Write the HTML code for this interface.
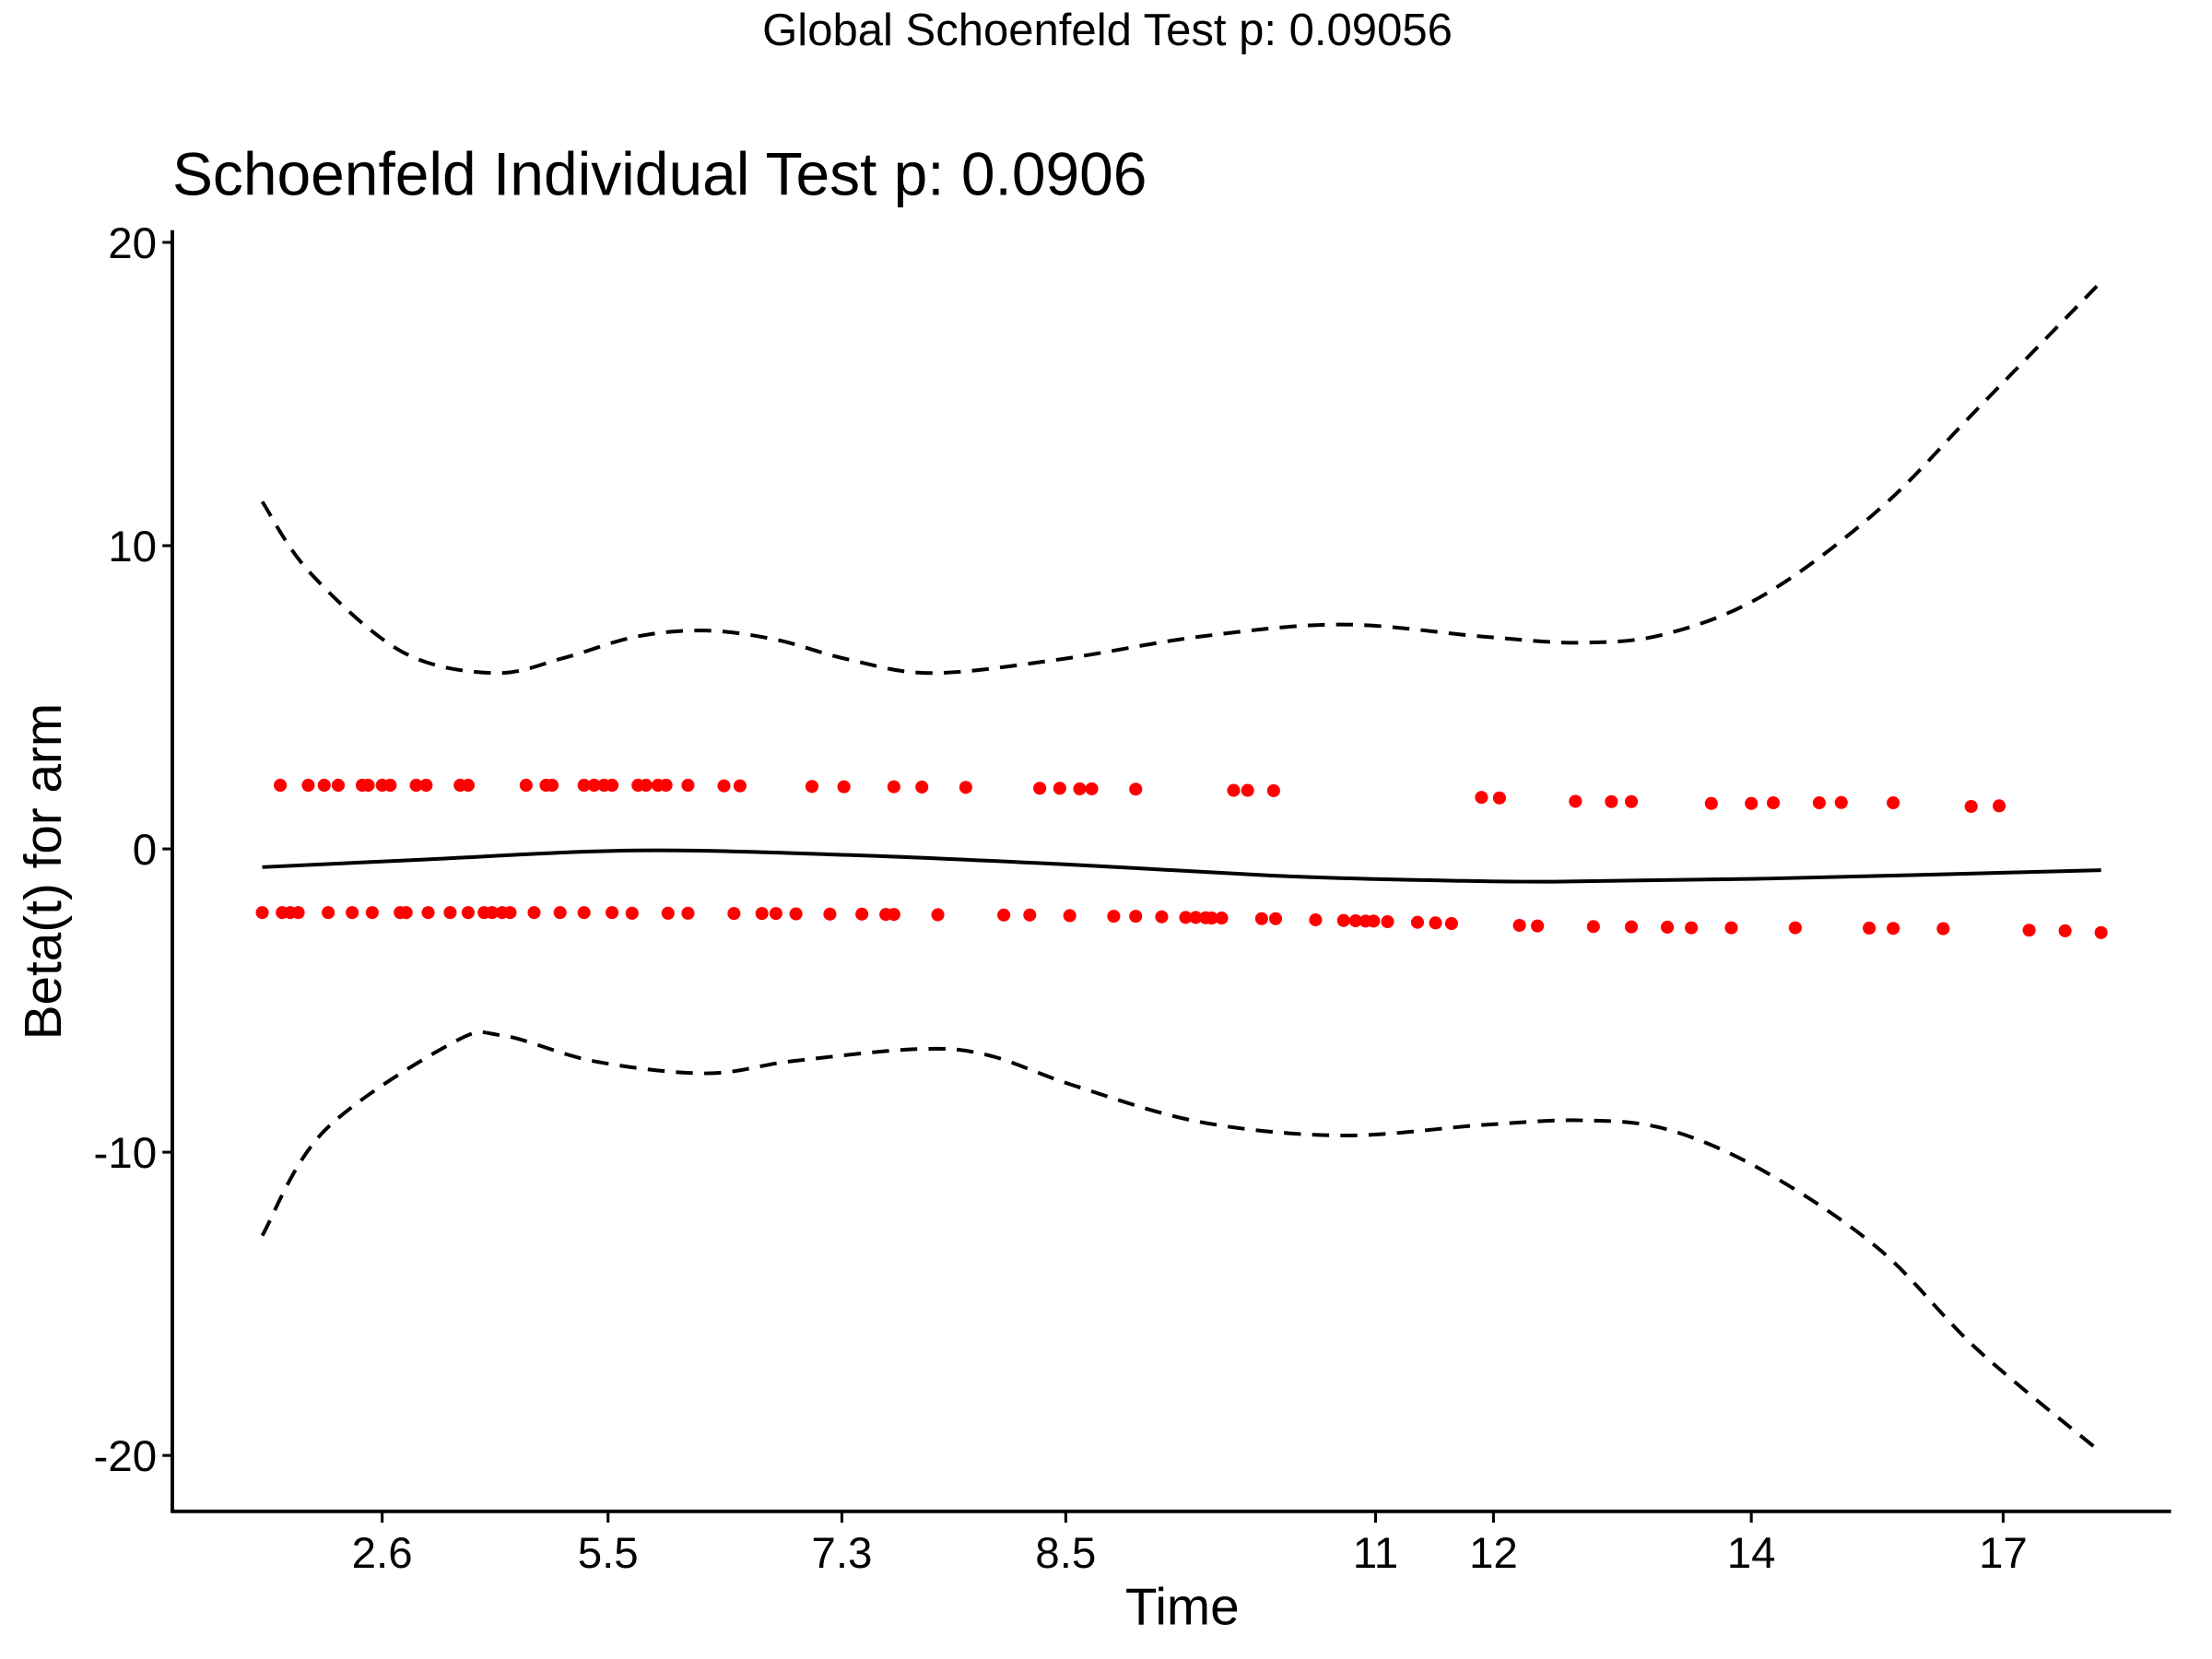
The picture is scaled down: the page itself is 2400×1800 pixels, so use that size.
<!DOCTYPE html>
<html><head><meta charset="utf-8"><style>html,body{margin:0;padding:0;background:#fff}svg{display:block}</style></head>
<body>
<svg id="chart" width="2400" height="1800" viewBox="0 0 1566 1174.5" xmlns="http://www.w3.org/2000/svg" font-family="'Liberation Sans', sans-serif">
<rect width="1566" height="1174.5" fill="#fff"/>
<text x="784" y="32" font-size="32" text-anchor="middle">Global Schoenfeld Test p: 0.09056</text>
<text x="122" y="138" font-size="43">Schoenfeld Individual Test p: 0.0906</text>
<text transform="translate(43,617) rotate(-90)" font-size="37" text-anchor="middle">Beta(t) for arm</text>
<text x="837" y="1150" font-size="37" text-anchor="middle">Time</text>
<g id="plot"></g>
</svg>
<script>
const xTickVals=[10.5,21.8,33.5,44.7,60.2,66.1,79.0,91.6];
const xTickLabels=["2.6","5.5","7.3","8.5","11","12","14","17"];
const yTickVals=[20,10,0,-10,-20];
const upperX=[5.4,6.8,7.6,8.3,9.5,9.8,10.5,10.9,12.2,12.7,14.4,14.8,17.7,18.7,19.0,20.6,21.1,21.6,22.0,23.3,23.7,24.3,24.7,25.8,27.6,28.4,32.0,33.6,36.1,37.5,39.7,43.4,44.4,45.4,46.0,48.2,53.1,53.8,55.1,65.5,66.4,70.2,72.0,73.0,77.0,79.0,80.1,82.4,83.5,86.1,90.0,91.4];
const upperY=[2.1,2.1,2.1,2.1,2.1,2.1,2.1,2.1,2.1,2.1,2.1,2.1,2.1,2.1,2.1,2.1,2.1,2.1,2.1,2.1,2.1,2.1,2.1,2.1,2.08,2.08,2.06,2.05,2.05,2.04,2.03,2.0,2.0,1.98,1.98,1.97,1.93,1.93,1.92,1.7,1.68,1.57,1.56,1.56,1.5,1.5,1.52,1.52,1.53,1.52,1.4,1.42];
const lowerX=[4.5,5.5,5.9,6.3,7.8,9.0,10.0,11.4,11.7,12.8,13.9,14.8,15.6,16.0,16.5,16.9,18.1,19.4,20.6,22.0,23.0,24.8,25.8,28.1,29.5,30.2,31.2,32.9,34.5,35.7,36.1,38.3,41.6,42.9,44.9,47.1,48.2,49.5,50.7,51.2,51.7,52.0,52.5,54.5,55.2,57.2,58.6,59.2,59.7,60.1,60.8,62.3,63.2,64.0,67.4,68.3,71.1,73.0,74.8,76.0,78.0,81.2,84.9,86.1,88.6,92.9,94.7,96.5];
const lowerY=[-2.1,-2.1,-2.1,-2.1,-2.1,-2.1,-2.1,-2.1,-2.1,-2.1,-2.1,-2.1,-2.1,-2.1,-2.1,-2.1,-2.1,-2.1,-2.1,-2.1,-2.12,-2.12,-2.12,-2.13,-2.13,-2.13,-2.14,-2.15,-2.15,-2.16,-2.16,-2.17,-2.18,-2.18,-2.2,-2.22,-2.22,-2.24,-2.26,-2.26,-2.27,-2.28,-2.28,-2.3,-2.3,-2.34,-2.36,-2.37,-2.38,-2.38,-2.4,-2.42,-2.44,-2.46,-2.52,-2.54,-2.56,-2.57,-2.58,-2.6,-2.6,-2.6,-2.61,-2.62,-2.63,-2.68,-2.7,-2.76];
const fitX=[4.5,12.6,23.2,33.8,44.4,55.0,62.0,69.1,79.7,96.5];
const fitY=[-0.6,-0.35,-0.05,-0.2,-0.5,-0.88,-1.02,-1.08,-0.98,-0.7];
const upCIX=[4.5,6.9,11.5,16.1,19.6,23.2,26.7,30.2,33.8,38.0,44.4,51.4,58.5,65.6,70.5,74.8,79.7,85.4,90.3,96.5];
const upCIY=[11.45,9.1,6.5,5.8,6.3,7.0,7.2,6.9,6.25,5.8,6.25,7.0,7.4,7.0,6.8,7.1,8.4,11.2,14.5,18.7];
const loCIX=[4.5,7.6,14.0,16.5,21.1,26.7,31.0,37.3,40.8,45.1,51.4,58.5,65.6,70.5,74.8,79.7,85.4,90.3,96.5];
const loCIY=[-12.75,-9.3,-6.4,-6.15,-7.0,-7.4,-7.0,-6.6,-6.8,-7.8,-9.0,-9.45,-9.1,-8.95,-9.25,-10.65,-13.2,-16.5,-19.9];

const NS="http://www.w3.org/2000/svg";
const g=document.getElementById('plot');
const X0=122,X1=1537,Y0=601,YS=21.47;
function xs(u){return X0+(X1-X0)*u/100;}
function ys(v){return Y0-YS*v;}
function mk(t,a){const e=document.createElementNS(NS,t);for(const k in a)e.setAttribute(k,a[k]);g.appendChild(e);return e;}
function smooth(xa,ya){
  const p=xa.map((x,i)=>[xs(x),ys(ya[i])]);
  let d="M"+p[0][0]+","+p[0][1];
  for(let i=0;i<p.length-1;i++){
    const p0=p[Math.max(0,i-1)],p1=p[i],p2=p[i+1],p3=p[Math.min(p.length-1,i+2)];
    const c1=[p1[0]+(p2[0]-p0[0])/6,p1[1]+(p2[1]-p0[1])/6];
    const c2=[p2[0]-(p3[0]-p1[0])/6,p2[1]-(p3[1]-p1[1])/6];
    d+=" C"+c1[0]+","+c1[1]+" "+c2[0]+","+c2[1]+" "+p2[0]+","+p2[1];
  }
  return d;
}
let e=mk('line',{x1:X0,y1:163,x2:X0,y2:1071,stroke:'#000','stroke-width':2.5});


e=mk('line',{x1:X0-1,y1:1070,x2:X1,y2:1070,stroke:'#000','stroke-width':2.5});


yTickVals.forEach(v=>{
  const t=mk('line',{x1:X0-7,x2:X0,y1:ys(v),y2:ys(v),stroke:'#000','stroke-width':2});
  
  
  const l=mk('text',{x:X0-11,y:ys(v)+11,'font-size':31,'text-anchor':'end'});
  l.textContent=String(v);
  
  
});
xTickVals.forEach((u,i)=>{
  const t=mk('line',{x1:xs(u),x2:xs(u),y1:1070,y2:1078,stroke:'#000','stroke-width':2});
  
  
  const l=mk('text',{x:xs(u),y:1110,'font-size':31,'text-anchor':'middle'});
  l.textContent=xTickLabels[i];
  
  
});
function pts(xa,ya,name){
  xa.forEach((x,i)=>{
    const c=mk('circle',{cx:xs(x),cy:ys(ya[i]),r:4.6,fill:'#ff0000'});
    
    
  });
}
pts(upperX,upperY,'residual-point-upper');
pts(lowerX,lowerY,'residual-point-lower');
e=mk('path',{d:smooth(fitX,fitY),fill:'none',stroke:'#000','stroke-width':2.6});


e=mk('path',{d:smooth(upCIX,upCIY),fill:'none',stroke:'#000','stroke-width':2.6,'stroke-dasharray':'12 8'});


e=mk('path',{d:smooth(loCIX,loCIY),fill:'none',stroke:'#000','stroke-width':2.6,'stroke-dasharray':'12 8'});


</script>
</body></html>
